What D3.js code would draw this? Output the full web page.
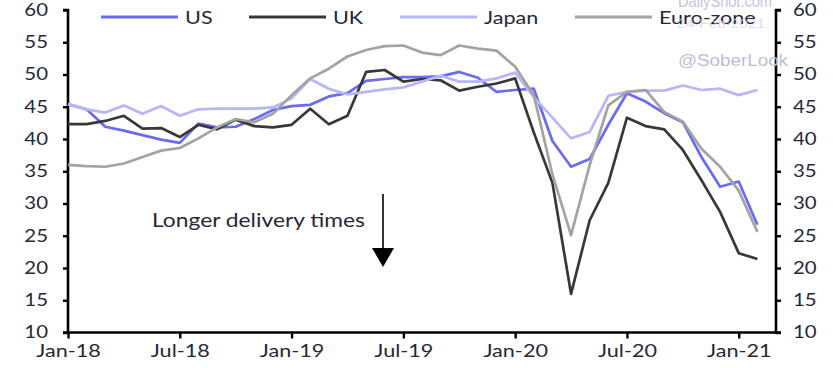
<!DOCTYPE html>
<html>
<head>
<meta charset="utf-8">
<script src="https://cdn.jsdelivr.net/npm/d3@7"></script>
<style>
  html, body { margin: 0; padding: 0; background: #ffffff; }
  svg { display: block; }
</style>
</head>
<body>
<svg id="chart" width="833" height="368"></svg>
<script>
// Supplier delivery times PMI sub-index, monthly, Jan-18 .. Feb-21
const months = [
  "2018-01","2018-02","2018-03","2018-04","2018-05","2018-06","2018-07","2018-08","2018-09","2018-10","2018-11","2018-12",
  "2019-01","2019-02","2019-03","2019-04","2019-05","2019-06","2019-07","2019-08","2019-09","2019-10","2019-11","2019-12",
  "2020-01","2020-02","2020-03","2020-04","2020-05","2020-06","2020-07","2020-08","2020-09","2020-10","2020-11","2020-12",
  "2021-01","2021-02"
];

const usValues = [
  45.4, 44.6, 41.9, 41.3, 40.6, 39.9, 39.4, 42.4, 41.8, 41.9, 43.1, 44.5,
  45.1, 45.3, 46.6, 47.1, 49.0, 49.3, 49.6, 49.6, 49.7, 50.4, 49.5, 47.3,
  47.6, 47.8, 39.7, 35.7, 36.9, 42.2, 47.1, 45.8, 44.0, 42.6, 37.2, 32.6,
  33.4, 26.7
];
const ukValues = [
  42.3, 42.3, 42.8, 43.6, 41.6, 41.7, 40.3, 42.2, 41.5, 43.0, 42.0, 41.8,
  42.2, 44.7, 42.3, 43.6, 50.4, 50.7, 48.9, 49.3, 49.1, 47.5, 48.1, 48.6,
  49.4, 41.0, 33.2, 16.0, 27.4, 33.2, 43.3, 42.0, 41.5, 38.3, 33.6, 28.7,
  22.3, 21.4
];
const japanValues = [
  45.4, 44.6, 44.1, 45.2, 43.9, 45.1, 43.6, 44.6, 44.7, 44.7, 44.7, 44.9,
  46.3, 49.3, 47.8, 46.9, 47.3, 47.7, 48.0, 48.9, 49.8, 48.9, 48.9, 49.4,
  50.3, 46.5, 43.3, 40.1, 41.1, 46.7, 47.3, 47.5, 47.5, 48.3, 47.6, 47.8,
  46.8, 47.6
];
const euroValues = [
  36.0, 35.8, 35.7, 36.2, 37.2, 38.2, 38.6, 40.1, 41.8, 43.1, 42.6, 43.9,
  46.8, 49.4, 50.9, 52.8, 53.8, 54.4, 54.5, 53.4, 53.0, 54.5, 54.0, 53.7,
  51.2, 46.8, 34.5, 25.1, 36.0, 45.2, 47.3, 47.6, 44.2, 42.7, 38.5, 35.7,
  32.0, 25.6
];

const seriesNames  = ["US", "UK", "Japan", "Euro-zone"];
const seriesColors = ["#6a6af2", "#383838", "#b6b6fb", "#a3a3a3"];

const xTickMonths = ["2018-01","2018-07","2019-01","2019-07","2020-01","2020-07","2021-01"];
const xTickLabels = ["Jan-18","Jul-18","Jan-19","Jul-19","Jan-20","Jul-20","Jan-21"];
const yTicks = [10, 15, 20, 25, 30, 35, 40, 45, 50, 55, 60];

// ---- layout ----
const svg = d3.select("#chart");
const plot = { left: 68, right: 776, top: 10, bottom: 332.5 };
const textColor = "#272738";
const fontFamily = "Lato, 'Open Sans', sans-serif";
const stretch = 1.2;   // horizontal stretch applied to all chart text

const x = d3.scaleLinear().domain([0, months.length]).range([plot.left, plot.right]);
const y = d3.scaleLinear().domain([10, 60]).range([plot.bottom, plot.top]);

const seriesData = [usValues, ukValues, japanValues, euroValues];

// stretch a text element horizontally around its anchor point
function stretchText(sel) {
  sel.each(function () {
    const t = d3.select(this);
    const tx = +t.attr("x") || 0;
    t.attr("x", tx / stretch).attr("transform", `scale(${stretch},1)`);
  });
}

// ---- axes ----
const axisLeft = d3.axisLeft(y).tickValues(yTicks).tickSize(5).tickPadding(15).tickFormat(d3.format("d"));
const axisRight = d3.axisRight(y).tickValues(yTicks).tickSize(5).tickPadding(12).tickFormat(d3.format("d"));
const axisBottom = d3.axisBottom(x)
  .tickValues(xTickMonths.map(m => months.indexOf(m)))
  .tickSize(6).tickPadding(6)
  .tickFormat((d, i) => xTickLabels[i]);

function styleAxis(g) {
  g.select(".domain").attr("stroke", "#000").attr("stroke-width", 2.6);
  g.selectAll(".tick line").attr("stroke", "#000").attr("stroke-width", 2.4);
  g.selectAll(".tick text")
    .attr("fill", textColor)
    .style("font-family", fontFamily)
    .style("font-size", "17px");
}

const gLeft = svg.append("g").attr("transform", `translate(${plot.left},0)`).call(axisLeft);
gLeft.call(g => g.select(".domain").attr("d", `M-5,${plot.top}H0V${plot.bottom}H-5`));
styleAxis(gLeft);
stretchText(gLeft.selectAll(".tick text"));

const gRight = svg.append("g").attr("transform", `translate(${plot.right},0)`).call(axisRight);
gRight.call(g => g.select(".domain").attr("d", `M5,${plot.top}H0V${plot.bottom}H5`));
styleAxis(gRight);
stretchText(gRight.selectAll(".tick text"));

const gBottom = svg.append("g").attr("transform", `translate(0,${plot.bottom})`).call(axisBottom);
gBottom.call(g => g.select(".domain").attr("d", `M${plot.left},0H${plot.right}`));
styleAxis(gBottom);
gBottom.selectAll(".tick text").style("font-size", "18px");
stretchText(gBottom.selectAll(".tick text"));

// ---- series lines ----
const line = d3.line().x((d, i) => x(i)).y(d => y(d));
svg.append("g").selectAll("path")
  .data(seriesData)
  .join("path")
  .attr("d", line)
  .attr("fill", "none")
  .attr("stroke", (d, i) => seriesColors[i])
  .attr("stroke-width", 2.7)
  .attr("stroke-linejoin", "round");

// ---- legend ----
const legendX = [101, 249, 400, 575];
const legend = svg.append("g");
seriesNames.forEach((name, i) => {
  legend.append("line")
    .attr("x1", legendX[i]).attr("x2", legendX[i] + 77)
    .attr("y1", 17).attr("y2", 17)
    .attr("stroke", seriesColors[i]).attr("stroke-width", 3);
  legend.append("text")
    .attr("x", legendX[i] + 84).attr("y", 24)
    .attr("fill", textColor)
    .style("font-family", fontFamily).style("font-size", "18px")
    .text(name)
    .call(stretchText);
});

// ---- annotation ----
const note = svg.append("g");
note.append("text")
  .attr("x", 152).attr("y", 227)
  .attr("fill", textColor)
  .style("font-family", fontFamily).style("font-size", "19px")
  .text("Longer delivery times")
  .call(stretchText);
note.append("line")
  .attr("x1", 383).attr("x2", 383).attr("y1", 194).attr("y2", 252)
  .attr("stroke", "#000").attr("stroke-width", 1.6);
note.append("path")
  .attr("d", "M372,248L394,248L383,267Z")
  .attr("fill", "#000");

// ---- watermark ----
const wm = svg.append("g").style("font-family", "'Liberation Sans', Arial, sans-serif");
wm.append("text").attr("x", 678).attr("y", 6.5)
  .attr("textLength", 94).attr("lengthAdjust", "spacingAndGlyphs")
  .attr("fill", "#c4c4de").style("font-size", "17px").text("DailyShot.com");
wm.append("text").attr("x", 677).attr("y", 28)
  .attr("textLength", 88).attr("lengthAdjust", "spacingAndGlyphs")
  .attr("fill", "#d6d6e8").attr("fill-opacity", 0.85).style("font-size", "13px").text("24-Feb-2021");
wm.append("text").attr("x", 678).attr("y", 66)
  .attr("textLength", 110).attr("lengthAdjust", "spacingAndGlyphs")
  .attr("fill", "#bcbcda").style("font-size", "16px").text("@SoberLook");
</script>
</body>
</html>
